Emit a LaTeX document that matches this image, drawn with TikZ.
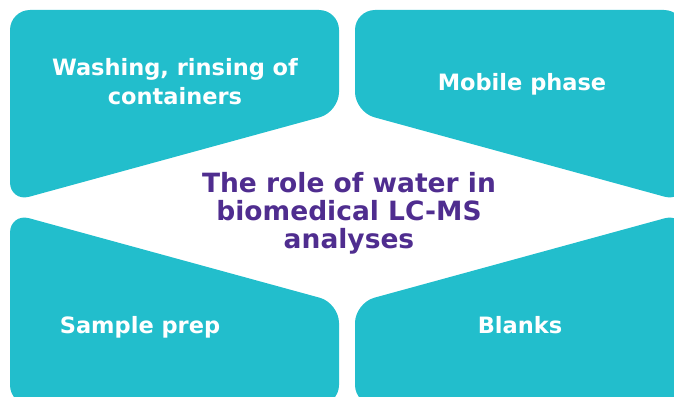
\documentclass[tikz,border=0pt]{standalone}
\usepackage{fontspec}
\setmainfont{DejaVu Sans}
\usepackage{xcolor}
\definecolor{waterteal}{HTML}{22BECC}
\definecolor{rolepurple}{HTML}{4F2D8F}

\begin{document}
\begin{tikzpicture}[x=1pt, y=-1pt,
  panel/.style={fill=waterteal, rounded corners=20pt},
  tiletext/.style={text=white, align=center, font=\bfseries\fontsize{22.5}{29}\selectfont},
  roletext/.style={text=rolepurple, align=center, font=\bfseries\fontsize{26.5}{28}\selectfont}]
  \useasboundingbox (0,0) rectangle (674,396);
  \clip (0,0) rectangle (674,396);
  % four panels, mirrored round the middle
  \foreach \sx/\sy in {1/1, -1/1, 1/-1, -1/-1}{
    \fill[panel, shift={(347,207.5)}, xscale=\sx, yscale=\sy]
      (-337,-197.5) -- (-8,-197.5) -- (-8,-95.5) -- (-337,-5.5) -- cycle;
  }
  \node[tiletext] (washing) at (175,82) {Washing, rinsing of\\containers};
  \node[tiletext, anchor=base] (mobile) at (522,90) {Mobile phase};
  \node[tiletext, anchor=base] (sample) at (140,333) {Sample prep};
  \node[tiletext, anchor=base] (blanks) at (520,333) {Blanks};
  \node[roletext] (role) at (349,213) {The role of water in\\biomedical LC-MS\\analyses};
\end{tikzpicture}
\end{document}
